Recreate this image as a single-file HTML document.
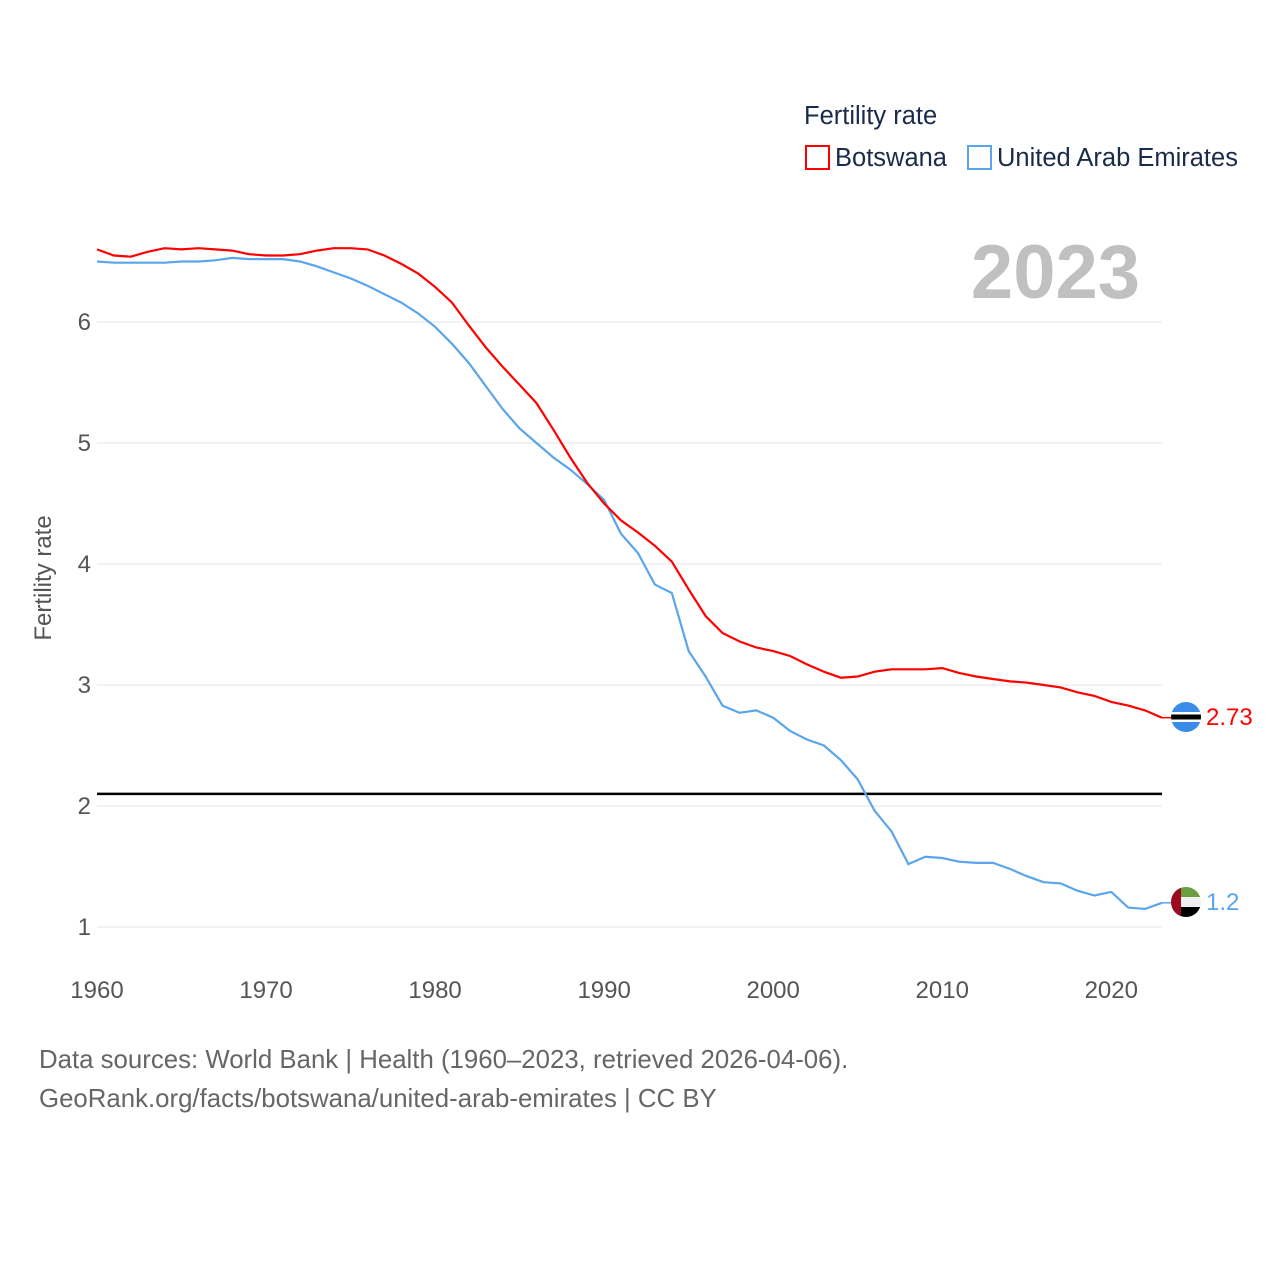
<!DOCTYPE html>
<html><head><meta charset="utf-8"><style>
body{margin:0;background:#fff;font-family:"Liberation Sans",sans-serif;}
</style></head><body>
<svg id="chart" width="1280" height="1280" xmlns="http://www.w3.org/2000/svg" font-family="Liberation Sans, sans-serif">
<defs>
<clipPath id="c1"><circle cx="1186" cy="717" r="15"/></clipPath>
<clipPath id="c2"><circle cx="1186" cy="902" r="15"/></clipPath>
</defs>
<g id="grid"></g>
<text x="804" y="124" font-size="25.5" fill="#1a2b4a">Fertility rate</text>
<g><rect x="806" y="146" width="23" height="23" fill="none" stroke="#ff0000" stroke-width="2"/><text x="835" y="166" font-size="25.5" fill="#1a2b4a">Botswana</text></g>
<g><rect x="968" y="146" width="23" height="23" fill="none" stroke="#5aa5ec" stroke-width="2"/><text x="997" y="166" font-size="25.5" fill="#1a2b4a">United Arab Emirates</text></g>
<text x="1140" y="298" font-size="76" font-weight="bold" fill="#c0c0c0" text-anchor="end">2023</text>
<text transform="translate(51,578) rotate(-90)" font-size="24" fill="#555" text-anchor="middle">Fertility rate</text>
<line id="refline" x1="97" x2="1162" stroke="#000" stroke-width="2.5"/>
<g id="series"></g>
<g clip-path="url(#c1)"><rect x="1170" y="701" width="32" height="32" fill="#3b8ce8"/><rect x="1170" y="712" width="32" height="10" fill="#fff"/><rect x="1170" y="714.5" width="32" height="5" fill="#000"/></g>
<g clip-path="url(#c2)"><rect x="1170" y="886" width="32" height="11" fill="#6a9e3e"/><rect x="1170" y="897" width="32" height="10" fill="#f0f0f0"/><rect x="1170" y="907" width="32" height="11" fill="#000"/><rect x="1170" y="886" width="11" height="32" fill="#9b0a1e"/></g>
<text x="1206" y="725" font-size="24" fill="#ff0000">2.73</text>
<text x="1206" y="910" font-size="24" fill="#5aa5ec">1.2</text>
<text x="39" y="1068" font-size="25.8" fill="#666">Data sources: World Bank | Health (1960–2023, retrieved 2026-04-06).</text>
<text x="39" y="1107" font-size="25.8" fill="#666">GeoRank.org/facts/botswana/united-arab-emirates | CC BY</text>
</svg>
<script>
const years=[];for(let y=1960;y<=2023;y++)years.push(y);
const botswana=[6.60,6.55,6.54,6.58,6.61,6.60,6.61,6.60,6.59,6.56,6.55,6.55,6.56,6.59,6.61,6.61,6.60,6.55,6.48,6.40,6.29,6.16,5.97,5.79,5.63,5.48,5.33,5.11,4.88,4.67,4.50,4.36,4.26,4.15,4.02,3.79,3.57,3.43,3.36,3.31,3.28,3.24,3.17,3.11,3.06,3.07,3.11,3.13,3.13,3.13,3.14,3.10,3.07,3.05,3.03,3.02,3.00,2.98,2.94,2.91,2.86,2.83,2.79,2.73];
const uae=[6.50,6.49,6.49,6.49,6.49,6.50,6.50,6.51,6.53,6.52,6.52,6.52,6.50,6.46,6.41,6.36,6.30,6.23,6.16,6.07,5.96,5.82,5.66,5.47,5.28,5.12,5.00,4.88,4.78,4.66,4.53,4.25,4.09,3.83,3.76,3.28,3.07,2.83,2.77,2.79,2.73,2.62,2.55,2.50,2.38,2.22,1.96,1.79,1.52,1.58,1.57,1.54,1.53,1.53,1.48,1.42,1.37,1.36,1.30,1.26,1.29,1.16,1.15,1.20];
const yTicks=[1,2,3,4,5,6];
const xTicks=[1960,1970,1980,1990,2000,2010,2020];
const replacement=2.1;
const NS='http://www.w3.org/2000/svg';
const X=y=>97+(y-1960)*(1162-97)/63;
const Y=v=>927-(v-1)*121;
const grid=document.getElementById('grid');
yTicks.forEach(t=>{
 const l=document.createElementNS(NS,'line');
 l.setAttribute('x1',97);l.setAttribute('x2',1162);l.setAttribute('y1',Y(t));l.setAttribute('y2',Y(t));
 l.setAttribute('stroke','#e6e6e6');l.setAttribute('stroke-width','1');
 
 
 grid.appendChild(l);
 const tx=document.createElementNS(NS,'text');
 tx.setAttribute('x',91);tx.setAttribute('y',Y(t)+8);tx.setAttribute('text-anchor','end');
 tx.setAttribute('font-size','24');tx.setAttribute('fill','#555');tx.textContent=t;
 
 
 grid.appendChild(tx);
});
xTicks.forEach(t=>{
 const tx=document.createElementNS(NS,'text');
 tx.setAttribute('x',X(t));tx.setAttribute('y',998);tx.setAttribute('text-anchor','middle');
 tx.setAttribute('font-size','24');tx.setAttribute('fill','#555');tx.textContent=t;
 
 
 grid.appendChild(tx);
});
const rl=document.getElementById('refline');
rl.setAttribute('y1',Y(replacement));rl.setAttribute('y2',Y(replacement));
const ser=document.getElementById('series');
function line(data,color,name){
 const p=document.createElementNS(NS,'path');
 p.setAttribute('d',data.map((v,i)=>(i?'L':'M')+X(years[i]).toFixed(1)+','+Y(v).toFixed(1)).join(''));
 p.setAttribute('fill','none');p.setAttribute('stroke',color);p.setAttribute('stroke-width','2.2');
 
 
 ser.appendChild(p);
 const c=document.createElementNS(NS,'line');
 const v=data[data.length-1];
 c.setAttribute('x1',1162);c.setAttribute('x2',1172);c.setAttribute('y1',Y(v));c.setAttribute('y2',Y(v));
 c.setAttribute('stroke',color);c.setAttribute('stroke-width','1.5');
 
 
 ser.appendChild(c);
}
line(uae,'#5aa5ec','line-uae');
line(botswana,'#ff0000','line-botswana');
</script>
</body></html>
